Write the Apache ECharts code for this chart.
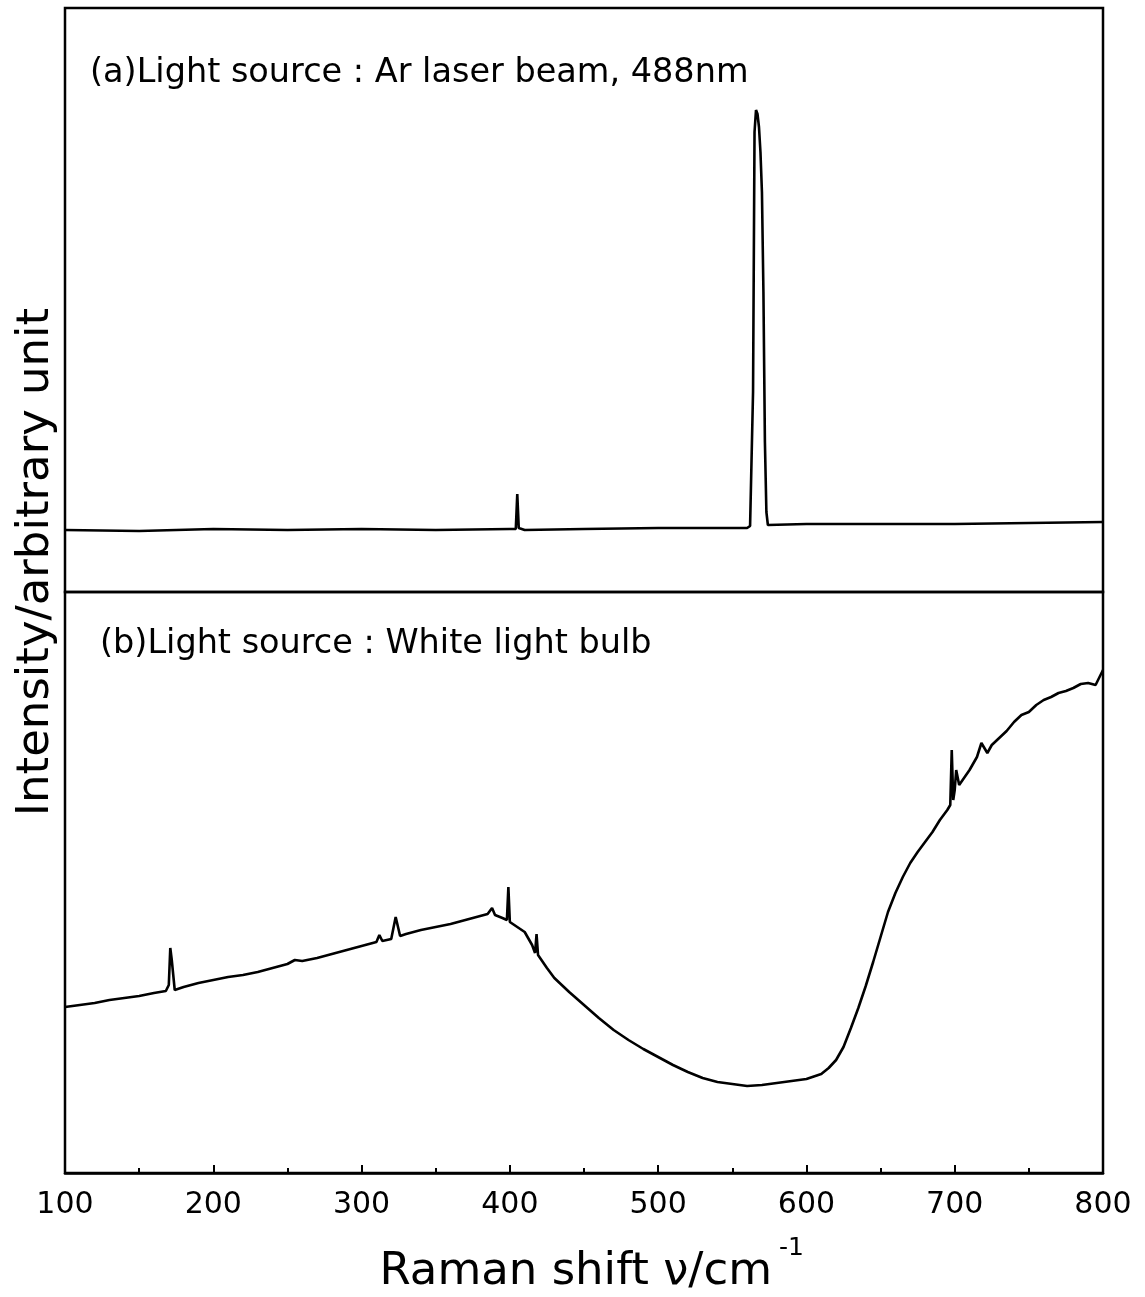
<!DOCTYPE html>
<html>
<head>
<meta charset="utf-8">
<script src="https://cdn.jsdelivr.net/npm/echarts@6/dist/echarts.min.js"></script>
<style>html,body{margin:0;padding:0;background:#fff;}#c{width:1145px;height:1297px;}</style>
</head>
<body>
<div id="c"></div>
<script>
// Raman shift (cm^-1) and intensity (arbitrary units)
const laserShift = [100,150,200,250,300,350,400,404,405,406,410,450,500,550,560,562,564,565,566,567,568,569,570,571,572,573,574,600,650,700,750,800];
const laserIntensity = [62,61,63,62,63,62,63,63,98,64,62,63,64,64,64,66,200,460,482,478,465,440,400,300,150,80,67,68,68,68,69,70];

const bulbShift = [100,110,120,130,140,150,160,168,170,171,172,174,180,190,200,210,220,230,240,250,255,260,270,280,290,300,310,312,314,320,323,326,330,340,350,360,370,380,385,388,390,395,398,399,400,405,410,415,417,418,419,425,430,440,450,460,470,480,490,500,510,520,530,540,550,560,570,580,590,600,610,615,620,625,630,635,640,645,650,655,660,665,670,675,680,685,690,695,697,698,699,700,701,703,710,715,718,720,722,725,730,735,740,745,750,755,760,765,770,775,780,785,790,795,800];
const bulbIntensity = [166,168,170,173,175,177,180,182,188,225,213,183,186,190,193,196,198,201,205,209,213,212,215,219,223,227,231,238,232,234,256,237,239,243,246,249,253,257,259,265,258,255,253,286,251,246,241,228,220,239,218,205,195,181,168,155,143,133,124,116,108,101,95,91,89,87,88,90,92,94,99,105,113,126,145,165,187,211,236,261,280,296,310,321,331,341,353,363,368,423,373,383,403,388,403,416,430,425,420,428,435,442,451,458,461,468,473,476,480,482,485,489,490,488,503];

const xTicks = [100,200,300,400,500,600,700,800];

const zip = (a,b)=>a.map((v,i)=>[v,b[i]]);
const chart = echarts.init(document.getElementById('c'));
const FONT = '"DejaVu Sans", sans-serif';
chart.setOption({
  animation:false,
  backgroundColor:'#fff',
  grid:[
    {left:65, right:42, top:8, height:584, show:true, borderColor:'#000', borderWidth:2.5, backgroundColor:'transparent'},
    {left:65, right:42, top:592, height:581, show:true, borderColor:'#000', borderWidth:2.5, backgroundColor:'transparent'}
  ],
  xAxis:[
    {gridIndex:0, type:'value', min:xTicks[0], max:xTicks[xTicks.length-1], show:false},
    {gridIndex:1, type:'value', min:xTicks[0], max:xTicks[xTicks.length-1], interval:100,
     axisLine:{show:true, lineStyle:{color:'#000', width:2.5}},
     axisTick:{show:true, inside:true, length:8, lineStyle:{color:'#000', width:2}},
     minorTick:{show:true, splitNumber:2, length:5, lineStyle:{color:'#000', width:2}},
     splitLine:{show:false},
     axisLabel:{color:'#000', fontSize:30, fontFamily:FONT, margin:17}
    }
  ],
  yAxis:[
    {gridIndex:0, type:'value', min:0, max:584, show:false},
    {gridIndex:1, type:'value', min:0, max:581, show:false}
  ],
  series:[
    {type:'line', xAxisIndex:0, yAxisIndex:0, data:zip(laserShift,laserIntensity), showSymbol:false, lineStyle:{color:'#000', width:2.6}},
    {type:'line', xAxisIndex:1, yAxisIndex:1, data:zip(bulbShift,bulbIntensity), showSymbol:false, lineStyle:{color:'#000', width:2.6}}
  ],
  graphic:[
    {type:'text', x:90, y:73, style:{text:'(a)Light source : Ar laser beam, 488nm', fontSize:33.5, fontFamily:FONT, fill:'#000', verticalAlign:'middle'}},
    {type:'text', x:100, y:644, style:{text:'(b)Light source : White light bulb', fontSize:33.5, fontFamily:FONT, fill:'#000', verticalAlign:'middle'}},
    {type:'text', x:36, y:562, rotation:Math.PI/2, style:{text:'Intensity/arbitrary unit', fontSize:45, fontFamily:FONT, fill:'#000', align:'center', verticalAlign:'middle'}},
    {type:'text', x:772, y:1272, style:{text:'Raman shift ν/cm', fontSize:45, fontFamily:FONT, fill:'#000', align:'right', verticalAlign:'middle'}},
    {type:'text', x:779, y:1248, style:{text:'-1', fontSize:25, fontFamily:FONT, fill:'#000', align:'left', verticalAlign:'middle'}}
  ]
});
</script>
</body>
</html>
